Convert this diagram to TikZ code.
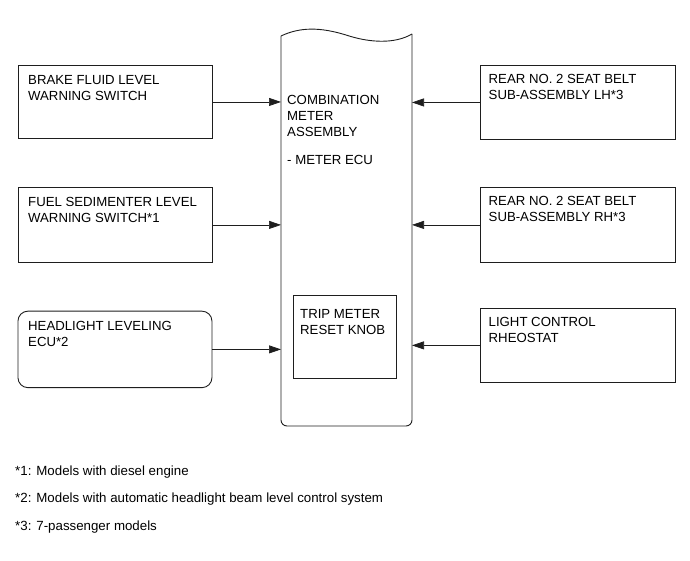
\documentclass[tikz,border=0pt]{standalone}
\usepackage{fontspec}
\setmainfont{Liberation Sans}
\usepackage{tikz}
\usetikzlibrary{arrows.meta, positioning, calc}
\definecolor{lineblack}{RGB}{30, 30, 30}

\tikzset{
    partbox/.style={draw=lineblack, line width=0.9pt, inner sep=0pt, anchor=north west},
    parttext/.style={anchor=north west, inner sep=0pt, align=left, font=\fontsize{13.2}{16}\selectfont},
    notetext/.style={anchor=base west, inner sep=0pt, font=\fontsize{13.3}{16}\selectfont},
    sig/.style={-{Triangle[length=12pt, width=8pt]}, line width=0.7pt, lineblack}
}

\begin{document}
\begin{tikzpicture}[x=1pt, y=-1pt]
    \useasboundingbox (0,0) rectangle (690,561);

    % 1. COMBINATION METER (drawn first)
    \draw[lineblack, line width=0.9pt] (281,36) .. controls (300,27) and (320,27) .. (346,35) .. controls (370,43) and (395,44) .. (412,34);
    \draw[lineblack, line width=0.9pt, rounded corners=6pt] (412,34) -- (412,426) -- (281,426) -- (281,36);
    \coordinate (meterW) at (281,230);
    \coordinate (meterE) at (412,230);
    \node[parttext] (metertxt) at (287,95) {COMBINATION\\METER\\ASSEMBLY\\[12pt]- METER ECU};

    \node[partbox, minimum width=103.5pt, minimum height=83pt] (trip) at (292.5,295) {};
    \node[parttext] (triptxt) at ([xshift=7.5pt, yshift=-14pt]trip.north west) {TRIP METER\\RESET KNOB};

    % 2. LEFT SIDE SWITCHES
    \node[partbox, minimum width=194pt, minimum height=73pt] (brake) at (17.5,65) {};
    \node[parttext] (braketxt) at ([xshift=10.5pt, yshift=-10.5pt]brake.north west) {BRAKE FLUID LEVEL\\WARNING SWITCH};

    \node[partbox, minimum width=194pt, minimum height=75.5pt] (fuel) at (17.5,186.7) {};
    \node[parttext] (fueltxt) at ([xshift=10.5pt, yshift=-10.5pt]fuel.north west) {FUEL SEDIMENTER LEVEL\\WARNING SWITCH*1};

    \node[partbox, rounded corners=10pt, minimum width=194pt, minimum height=76.5pt] (headlight) at (17.5,310.7) {};
    \node[parttext] (headlighttxt) at ([xshift=10.5pt, yshift=-10.5pt]headlight.north west) {HEADLIGHT LEVELING\\ECU*2};

    % 3. RIGHT SIDE PARTS
    \node[partbox, minimum width=195pt, minimum height=74pt] (beltlh) at (480,65) {};
    \node[parttext] (beltlhtxt) at ([xshift=8.5pt, yshift=-9pt]beltlh.north west) {REAR NO. 2 SEAT BELT\\SUB-ASSEMBLY LH*3};

    \node[partbox, minimum width=195pt, minimum height=75.5pt] (beltrh) at (480,186.7) {};
    \node[parttext] (beltrhtxt) at ([xshift=8.5pt, yshift=-9pt]beltrh.north west) {REAR NO. 2 SEAT BELT\\SUB-ASSEMBLY RH*3};

    \node[partbox, minimum width=195pt, minimum height=74.5pt] (rheostat) at (480,307.7) {};
    \node[parttext] (rheostattxt) at ([xshift=8.5pt, yshift=-9pt]rheostat.north west) {LIGHT CONTROL\\RHEOSTAT};

    % 4. SIGNAL LINES
    \foreach \src in {brake, fuel, headlight} {
        \draw[sig] (\src.east) -- (\src.east -| meterW);
    }
    \foreach \src in {beltlh, beltrh, rheostat} {
        \draw[sig] (\src.west) -- (\src.west -| meterE);
    }

    % 5. NOTES
    \node[notetext] (note1) at (15,475) {*1: Models with diesel engine};
    \node[notetext] (note2) at (15,502.7) {*2: Models with automatic headlight beam level control system};
    \node[notetext] (note3) at (15,530) {*3: 7-passenger models};

\end{tikzpicture}
\end{document}
